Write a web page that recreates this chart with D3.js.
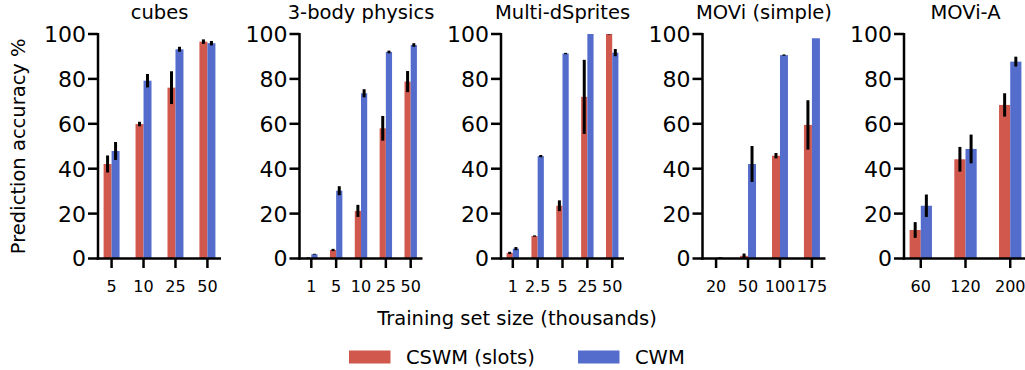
<!DOCTYPE html>
<html>
<head>
<meta charset="utf-8">
<script src="https://cdn.jsdelivr.net/npm/d3@7"></script>
<style>
  body { margin: 0; background: #fff; }
  text { font-family: 'DejaVu Sans', sans-serif; fill: #000; }
  .spine, .tick-line { stroke: #000; stroke-width: 2.5; }
  .err { stroke: #000; stroke-width: 3; }
</style>
</head>
<body>
<div id="plot-container"></div>
<script>
// The data
var panelTitles = ['cubes', '3-body physics', 'Multi-dSprites', 'MOVi (simple)', 'MOVi-A'];
var sizeLabels = [
  ['5', '10', '25', '50'],
  ['1', '5', '10', '25', '50'],
  ['1', '2.5', '5', '25', '50'],
  ['20', '50', '100', '175'],
  ['60', '120', '200']
];
var cswmMean = [
  [42.1, 59.9, 76.1, 96.6],
  [0.3, 3.8, 21.2, 58.0, 78.8],
  [2.5, 10.0, 23.5, 72.0, 100],
  [0, 1.2, 45.8, 59.5],
  [12.7, 44.2, 68.4]
];
var cswmErr = [
  [3.8, 1.0, 7.3, 1.0],
  [0.2, 0.5, 2.7, 5.5, 4.7],
  [0.5, 0.3, 2.4, 16.5, 0.2],
  [0, 1.0, 1.2, 11.0],
  [3.5, 5.5, 5.2]
];
var cwmMean = [
  [47.9, 79.2, 93.2, 95.9],
  [1.9, 30.2, 73.6, 92.0, 95.1],
  [4.4, 45.6, 91.3, 100, 91.7],
  [0.4, 42.1, 90.6, 98.1],
  [23.5, 48.8, 87.7]
];
var cwmErr = [
  [4.0, 3.0, 1.1, 1.0],
  [0.2, 2.0, 1.8, 0.6, 0.8],
  [0.7, 0.5, 0.3, 0, 1.6],
  [0.2, 8.0, 0.3, 0],
  [5.0, 6.4, 2.2]
];
var yTicks = [0, 20, 40, 60, 80, 100];
var seriesNames = ['CSWM (slots)', 'CWM'];
var seriesColors = ['#d0584d', '#546dcc'];

// The configuration parameters
var totalWidth = 1025, totalHeight = 370;
var margins = {top: 34, left: 98, step: 201.5, panel: 123, bottom: 258.5, bar: 0.25};
var height = margins.bottom - margins.top;

var svg = d3.select('#plot-container').append('svg').attr('width', totalWidth).attr('height', totalHeight);

var yScale = d3.scaleLinear().domain([0, 100]).range([height, 0]).clamp(true);

panelTitles.forEach(function(title, p) {
  var n = sizeLabels[p].length;
  var pad = 0.05 * (n - 0.5);
  var xScale = d3.scaleLinear().domain([-margins.bar - pad, n - 1 + margins.bar + pad]).range([0, margins.panel]);
  var g = svg.append('g').attr('transform', 'translate(' + [margins.left + p * margins.step, margins.top] + ')');

  var rows = sizeLabels[p].map(function(d, i) {
    return {i: i, label: d, values: [[cswmMean[p][i], cswmErr[p][i]], [cwmMean[p][i], cwmErr[p][i]]]};
  });

  // bars
  rows.forEach(function(r) {
    r.values.forEach(function(v, s) {
      var x0 = xScale(r.i - margins.bar + s * margins.bar), x1 = xScale(r.i + s * margins.bar);
      g.append('rect').attr('x', x0).attr('y', yScale(v[0])).attr('width', x1 - x0)
        .attr('height', yScale(0) - yScale(v[0])).attr('fill', seriesColors[s]);
    });
  });
  // error bars
  rows.forEach(function(r) {
    r.values.forEach(function(v, s) {
      if (v[1] <= 0) return;
      var cx = xScale(r.i - margins.bar / 2 + s * margins.bar);
      g.append('line').attr('class', 'err').attr('x1', cx).attr('x2', cx)
        .attr('y1', yScale(v[0] - v[1])).attr('y2', yScale(v[0] + v[1]));
    });
  });

  // spines
  g.append('line').attr('class', 'spine').attr('x1', 0).attr('x2', 0).attr('y1', -1).attr('y2', height + 1.2);
  g.append('line').attr('class', 'spine').attr('x1', -1.2).attr('x2', margins.panel).attr('y1', height).attr('y2', height);

  // y ticks
  var yt = g.selectAll('g.ytick').data(yTicks).enter().append('g').attr('class', 'ytick')
    .attr('transform', function(d) { return 'translate(' + [0, yScale(d)] + ')'; });
  yt.append('line').attr('class', 'tick-line').attr('x1', -10).attr('x2', 0);
  yt.append('text').attr('x', -12).attr('dy', '0.36em').attr('text-anchor', 'end').style('font-size', '22px').text(function(d) { return d; });

  // x ticks
  var xt = g.selectAll('g.xtick').data(rows).enter().append('g').attr('class', 'xtick')
    .attr('transform', function(d) { return 'translate(' + [xScale(d.i), height] + ')'; });
  xt.append('line').attr('class', 'tick-line').attr('y1', 0).attr('y2', 9.5);
  xt.append('text').attr('y', 33).attr('text-anchor', 'middle').style('font-size', '16px').text(function(d) { return d.label; });

  // title
  g.append('text').attr('x', margins.panel / 2).attr('y', 18.5 - margins.top).attr('text-anchor', 'middle')
    .style('font-size', '19.5px').text(title);
});

// y label
svg.append('text').attr('transform', 'translate(' + [24.5, (margins.top + margins.bottom) / 2] + ') rotate(-90)')
  .attr('text-anchor', 'middle').style('font-size', '19.5px').text('Prediction accuracy %');

// x label
svg.append('text').attr('x', 517).attr('y', 325).attr('text-anchor', 'middle').style('font-size', '19.5px')
  .text('Training set size (thousands)');

// legend
var legendX = [349, 578];
var legend = svg.selectAll('g.legend').data(seriesNames).enter().append('g').attr('class', 'legend')
  .attr('transform', function(d, i) { return 'translate(' + [legendX[i], 350.5] + ')'; });
legend.append('rect').attr('width', 41.5).attr('height', 13).attr('fill', function(d, i) { return seriesColors[i]; });
legend.append('text').attr('x', 57).attr('y', 13).style('font-size', '19.5px').text(function(d) { return d; });
</script>
</body>
</html>
